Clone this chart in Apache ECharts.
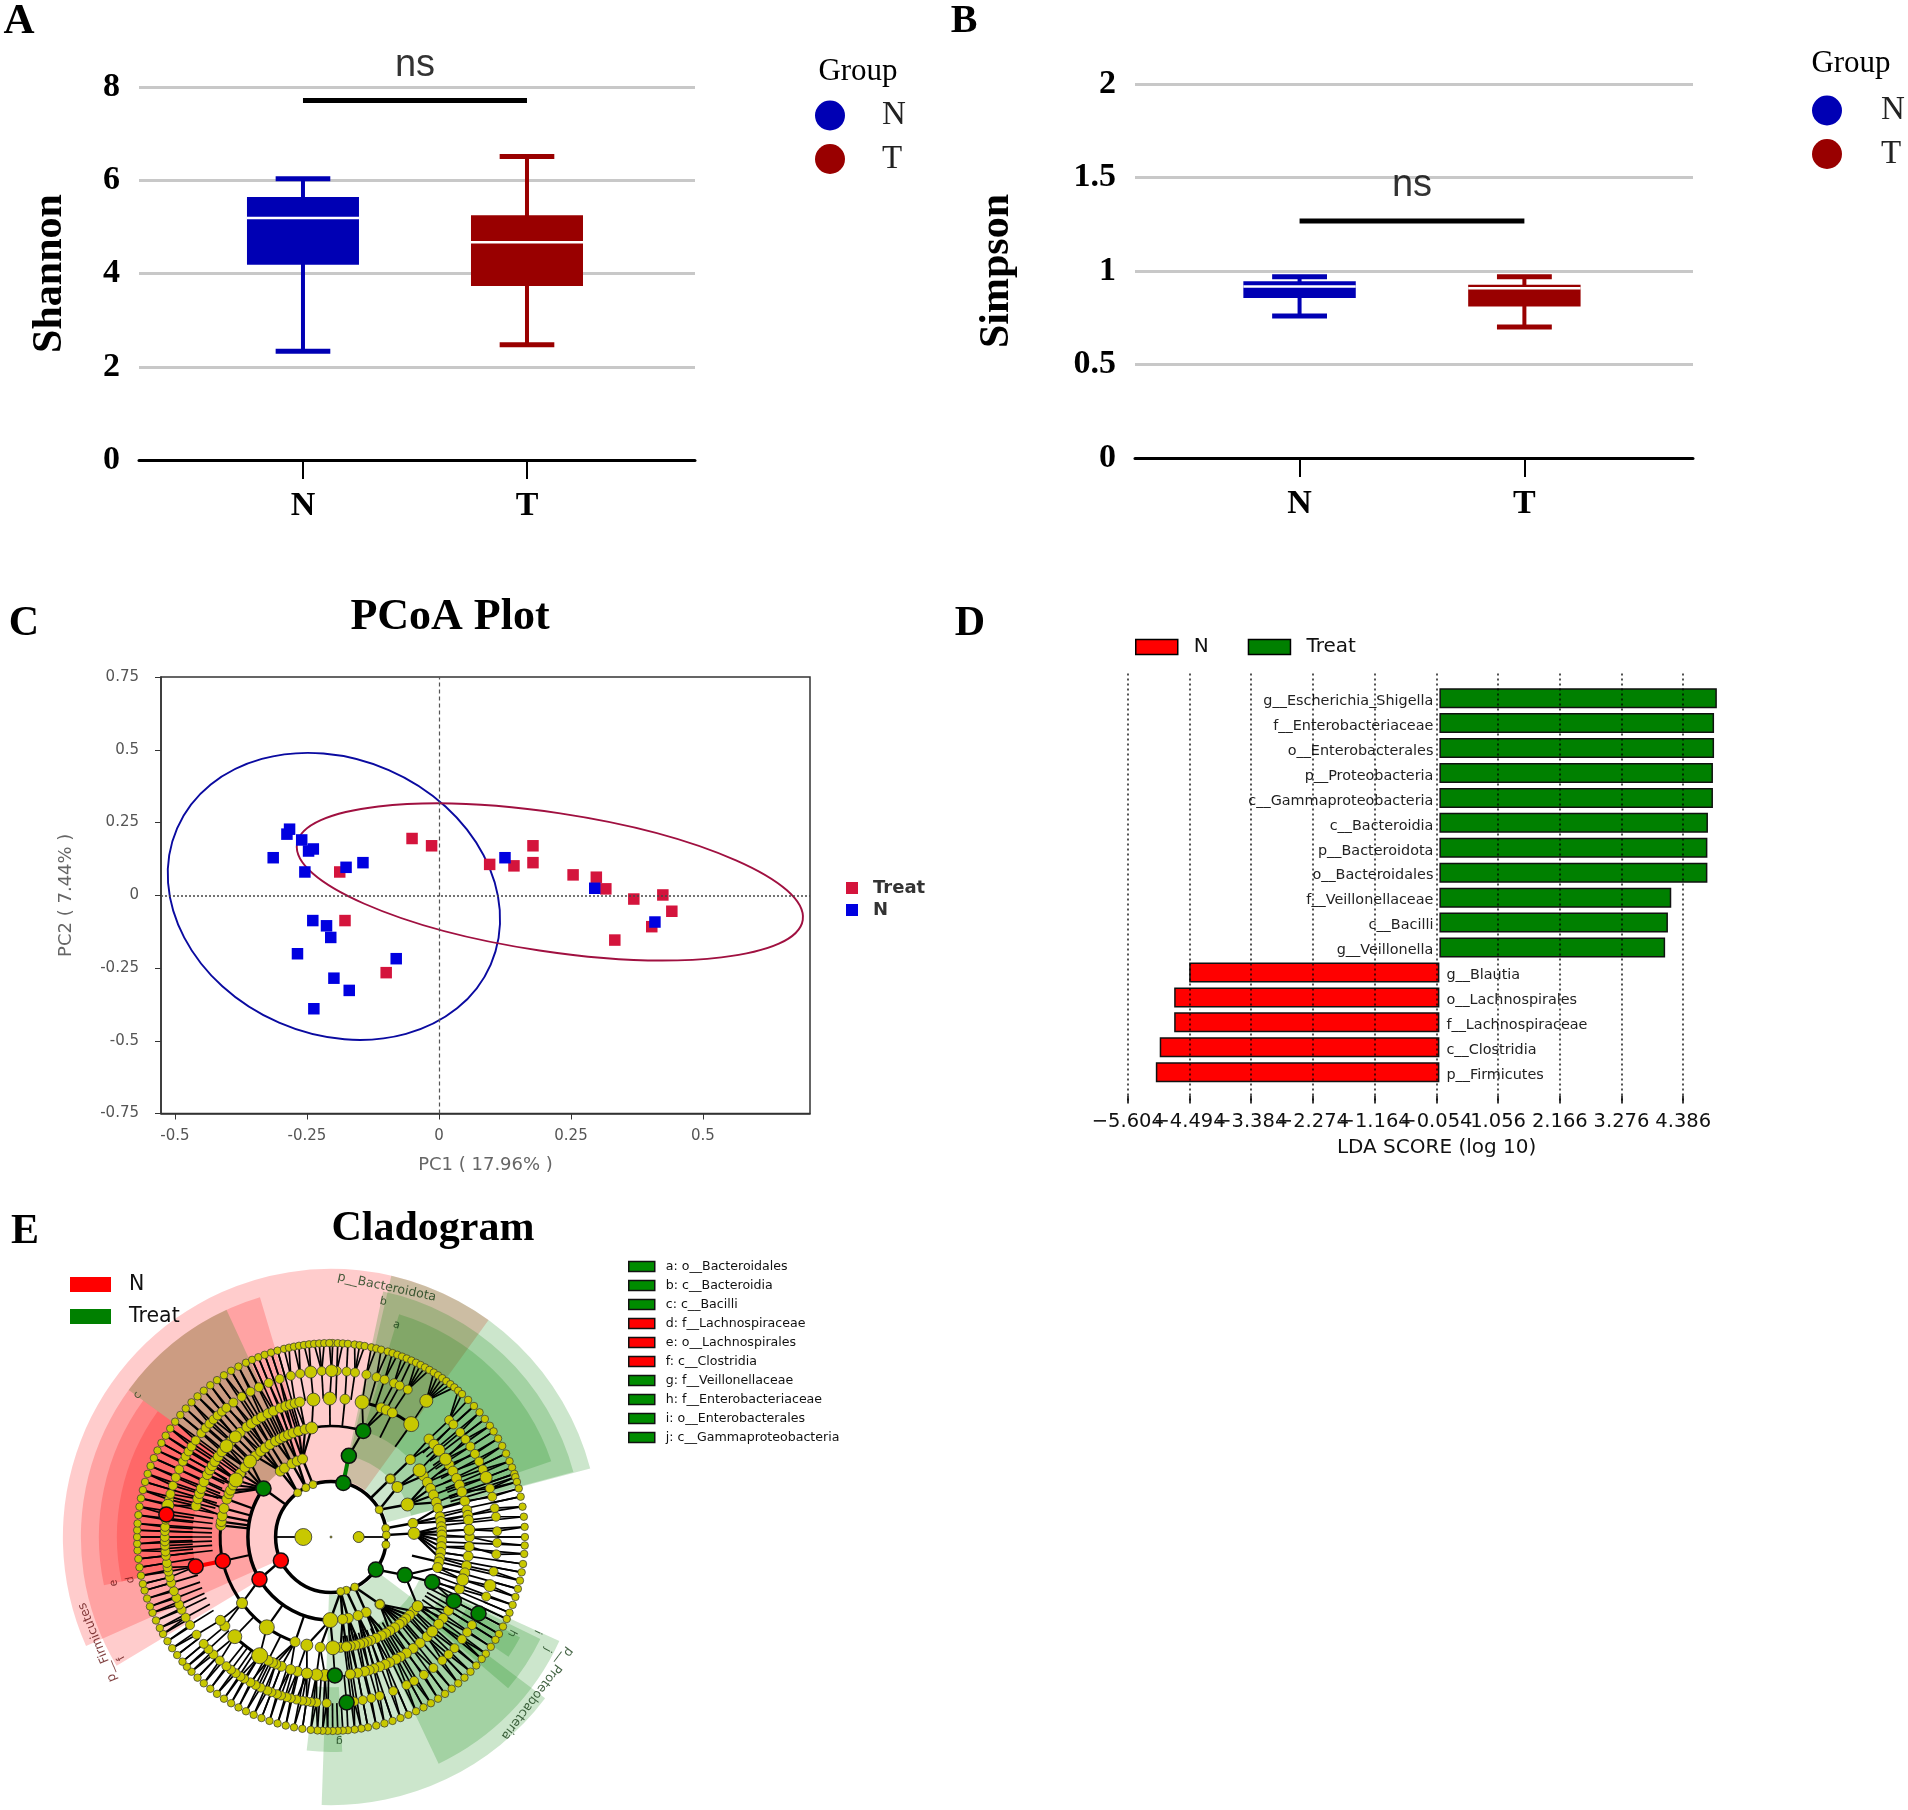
<!DOCTYPE html>
<html><head><meta charset="utf-8">
<style>html,body{margin:0;padding:0;background:#fff}#c{width:1908px;height:1810px}</style>
<script src="https://cdn.jsdelivr.net/npm/echarts@6/dist/echarts.min.js"></script>
</head><body><div id="c"></div>
<script>
// ---------- Panel A / B : boxes as [low, q1, median, q3, high]
const boxGroups = ['N', 'T'];
const shannonN = [2.33, 4.19, 5.19, 5.64, 6.03];
const shannonT = [2.47, 3.73, 4.67, 5.25, 6.51];
const simpsonN = [0.759, 0.856, 0.917, 0.945, 0.969];
const simpsonT = [0.70, 0.81, 0.908, 0.926, 0.969];
const shannonNs = 7.71;
const simpsonNs = 1.268;
// ---------- Panel C
const pcoaXTicks = [-0.5, -0.25, 0, 0.25, 0.5];
const pcoaTreat = [[-.051,.195],[-.014,.17],[.096,.106],[.142,.101],[.178,.17],[.178,.112],[.254,.07],[.298,.062],[.316,.022],[.369,-.013],[.424,.001],[.441,-.055],[.403,-.108],[.333,-.154],[-.188,.08],[-.178,-.087],[-.1,-.266]];
const pcoaN = [[-.283,.227],[-.288,.21],[-.26,.19],[-.238,.159],[-.247,.152],[-.314,.129],[-.254,.08],[-.176,.096],[-.144,.112],[.125,.129],[.295,.024],[.409,-.092],[-.239,-.087],[-.213,-.105],[-.205,-.145],[-.268,-.201],[-.081,-.218],[-.199,-.285],[-.17,-.327],[-.237,-.39]];
// ellipse: centre x,y, major-axis end x,y, minor-axis end x,y
const ellipseN = [-.199,-.004,.098,-.238,-.303,-.438];
const ellipseTreat = [.21,.0458,.689,-.085,.191,-.19];
// ---------- Panel D
const ldaTicks = [-5.604, -4.494, -3.384, -2.274, -1.164, -0.054, 1.056, 2.166, 3.276, 4.386];
const ldaTicksA = [-5.604, -3.384, -1.164, 1.056, 3.276];
const ldaTicksB = [-4.494, -2.274, -0.054, 2.166, 4.386];
const ldaCats = ['g__Escherichia_Shigella','f__Enterobacteriaceae','o__Enterobacterales','p__Proteobacteria','c__Gammaproteobacteria','c__Bacteroidia','p__Bacteroidota','o__Bacteroidales','f__Veillonellaceae','c__Bacilli','g__Veillonella','g__Blautia','o__Lachnospirales','f__Lachnospiraceae','c__Clostridia','p__Firmicutes'];
const ldaTreat = [4.99, 4.94, 4.94, 4.92, 4.92, 4.83, 4.82, 4.82, 4.17, 4.11, 4.06];
const ldaN = [-4.50, -4.77, -4.77, -5.03, -5.10];
// ---------- Panel E : clock degrees on concentric levels
const cladoRing7 = [0.5,2,3.5,5,7,8.5,10,12,13.5,15,17,18.5,20,21.5,23,24.5,26,27.5,29,30.5,32,33.5,35,36.5,38,39.5,41,42.5,45,47.5,50,52.5,55,57,59.5,62,64.5,67,69,71,72,73.5,75.5,78,81,84,87,90,92.5,95,98,100.5,103,105.5,108,110.5,113,115,117.5,120,122,124.5,127,129,131.5,134,136.5,139,141.5,144,146.5,149,151.5,154,156.5,159,161.5,164,166.5,169,171,173,175,176.5,178,179.5,181,182.5,184,186,188.5,191,193.5,196,198.5,201,203.5,206,208.5,211,213.5,216,218.5,221,223.5,226,228,230,232.5,235,237.5,240,242,244.5,247,249,251.5,254,256,258.5,261,263.5,266,268,270,272,274,276.5,279,281.5,284,286.5,289,291.5,294,296.5,299,301.5,304,306.5,309,311.5,314,316.5,319,321.5,324,326.5,329,331.5,334,336,338,340,342,344,346,347.5,349,350.5,352,353.5,355,356.5,358,359.5];
const cladoRing6 = [0.2,2,5.4,8.3,12.3,15.9,18.8,22.3,24.4,27.5,35,45.3,47.4,51,54,57,60,63,66,69,73,76,80,83,88,92,96,102,107,111,122,125,128,132,135,138,142,146,150,153,158,163,166,169,172,181.5,185,187,188.5,190,192,194,195.5,197.5,199,201,202.5,205,207,209,211.5,213,215,217,219,222,225,227.5,230,234,238,241,244,246,248.5,251,254,256,258,259.5,261,263.5,265,267,268.5,270,272,273.5,276,281,283,285,288,291,294,297,299,301,303,305.5,308.7,311,313,315,317,319,321,324,327.5,331,334.3,338,342,346,349.3,353,356.8];
const cladoRing5 = [5.8,13,21.2,23.5,26.3,35.4,45,48,51.2,55.8,58.5,61.6,65,68,71,75,78.8,81,83,87,90,94,98,102,105,108,112,122,126,129,133,136,140,143.6,147,150,152,155,157,159.5,162,164,166,169,172,182.5,186,190,194,197,201,203.5,205,207,211,224,230,233,283,286,288.3,290.5,293.5,296.8,299,301,303,305.5,308,311,313.5,316.3,319,322.6,325,327.6,330,333,335.5,338.6,341,343,345,347,352.7,359.5];
const cladoRing4 = [45.7,53,56.5,60.4,64,67.7,71.8,75,79.5,82,84.7,87,89,92,95,98,101,103,106,128.6,132,135,137.6,140,142,145,148,150.5,153,156,159,161,163,165,167.5,170,172,175,179,185.6,192.6,198.9,215.4,233.4,276,278,281,285,290,293,295,298,301,305,309,313,317,320.6,323.5,326.6,330,332.7,335,337.5,340,343,346.5,350];
const cladoRing3 = [45.6,53,67,80.5,87.5,144,155,161,168,172,180.5,322.4,326,332,336,340];
const cladoRing2 = [60.5,81,88,98,154.6,164,170,323,333,341];
const cladoRing1 = [90, 270];
const cladoRedNodes = [[2,244.8],[3,239.4],[4,257.5],[5,257.7],[6,277.8]];
const cladoGreenNodes = [[2,12.8],[3,12.4],[4,16.9],[2,126],[3,117.3],[4,114],[5,117.5],[6,117.4],[3,305.7],[5,178.4],[6,174.6]];
const cladoBigNodes = [[0,0,2],[6,35,13],[6,69,12],[6,107,12],[6,353,12],[6,0.2,12],[6,281,12],[5,35.4,15],[5,51.2,12],[5,55.8,12],[5,87,11],[5,108,12],[5,133,11],[5,172,10],[5,182.5,12],[5,186,12],[5,190,11],[5,211,16],[5,224,14],[5,311,13],[5,316.3,12],[5,352.7,13],[5,359.5,13],[5,13,14],[4,53,13],[4,128.6,11],[4,179,14],[4,172,10],[4,192.6,12],[4,215.4,15],[4,233.4,11],[4,301,14],[4,313,13],[4,350,12],[3,53,11],[3,67,13],[3,87.5,12],[3,180.5,15],[3,144,9],[3,45.6,9],[1,90,11],[1,270,17]];
const cladoArcs = [[2,0,360,3.5],[3,180,305,3.5],[4,198,276,3],[4,340,377,2.5],[5,211,224,3],[5,13,35,3]];
// spokes through the rings: [from clock, to clock, inner level]
const cladoSpokeBands = [[46,75,4.5],[75,125,4],[125,148,4],[148,175,3.6],[181,215,5],[215,262,6],[262,300,4.3],[300,345,3.8]];
const cladoRedEdges = [[5,257.7,4,257.5,4]];
const cladoGreenEdges = [[3,12.4,2,12.8,4]];
// [from clock, to clock, inner level, outer level]
const sectorsN = [[246,396,2.02,9.68],[239,343.5,3,9.03],[258,306,4,8.38],[258,306,5,7.73]];
const sectorsTreat = [[13,75.2,2.09,9.68],[12,75,3,9.06],[17,71,4,8.41],[306,335.3,3,9.03],[127,182,2.09,9.68],[114.5,154.6,3.54,9.06],[116,130.5,4.51,8.41],[118,124,5.52,7.73],[177,186.5,5.42,7.76]];
const cladeKeyN = ['d: f__Lachnospiraceae','e: o__Lachnospirales','f: c__Clostridia'];
const cladeKey = ['a: o__Bacteroidales','b: c__Bacteroidia','c: c__Bacilli','d: f__Lachnospiraceae','e: o__Lachnospirales','f: c__Clostridia','g: f__Veillonellaceae','h: f__Enterobacteriaceae','i: o__Enterobacterales','j: c__Gammaproteobacteria'];
// [text, level, clock, rotate]
const cladoLabels = [['a',8.01,17.2,-17],['b',8.7,12.5,-12],['c',8.66,306.2,54],['d',7.4,258,102],['e',8.01,258,102],['f',8.74,240,120],['g',7.36,177.7,180],['h',7.4,118,-118],['i',8.2,114.7,-115],['j',8.81,117.6,-118],['p__Bacteroidota',9.24,12.6,-12],['p__Firmicutes',9.24,245.7,112],['p__Proteobacteria',9.35,127.2,-127]];

const SERIF = '"Liberation Serif"', SANS = '"DejaVu Sans"';
const BLUE = '#0000b4', DARKRED = '#990000';

function boxRender(params, api) {
  const x = api.value(0), color = api.visual('color');
  const P = (a, b) => api.coord([a, b]);
  const low = api.value(1), q1 = api.value(2), med = api.value(3), q3 = api.value(4), high = api.value(5);
  const tl = P(x - .25, q3), br = P(x + .25, q1);
  const line = (p, q, w, c) => ({type:'line', shape:{x1:p[0],y1:p[1],x2:q[0],y2:q[1]}, style:{stroke:c||color,lineWidth:w}});
  return {type:'group', children:[
    line(P(x,low),P(x,high),4),
    line(P(x-.122,low),P(x+.122,low),5),
    line(P(x-.122,high),P(x+.122,high),5),
    {type:'rect', shape:{x:tl[0],y:tl[1],width:br[0]-tl[0],height:br[1]-tl[1]}, style:{fill:color}},
    line(P(x-.25,med),P(x+.25,med),2.5,'#ffffff')
  ]};
}
function boxSeries(name, idx, values, color) {
  return {type:'custom', name, xAxisIndex:idx, yAxisIndex:idx, renderItem:boxRender, itemStyle:{color},
    encode:{x:0,y:[1,2,3,4,5]}, data:[[boxGroups.indexOf(name)+1].concat(values)], z:3};
}
function nsSeries(idx, y) {
  return [
    {type:'line', xAxisIndex:idx, yAxisIndex:idx, data:[[1,y],[2,y]], showSymbol:false, lineStyle:{color:'#000',width:5}, z:3},
    {type:'scatter', xAxisIndex:idx, yAxisIndex:idx, data:[[1.5,y]], symbolSize:0, z:4,
     label:{show:true, position:'top', distance:16, formatter:'ns', fontFamily:'"Liberation Sans"', fontSize:38, color:'#000'}}
  ];
}
function boxX(idx) {
  return {gridIndex:idx, type:'value', min:.268, max:2.75, splitLine:{show:false},
    axisLine:{lineStyle:{color:'#000',width:3}},
    axisTick:{customValues:[1,2], length:19, lineStyle:{color:'#000',width:2}},
    axisLabel:{customValues:[1,2], formatter:v=>boxGroups[v-1], fontFamily:SERIF, fontWeight:'bold', fontSize:34, color:'#000', margin:29}};
}
function boxY(idx, name, max, interval, gap) {
  return {gridIndex:idx, type:'value', min:0, max, interval, name, nameLocation:'middle', nameGap:gap,
    nameTextStyle:{fontFamily:SERIF,fontWeight:'bold',fontSize:42,color:'#000'},
    axisLine:{show:false}, axisTick:{show:false},
    splitLine:{lineStyle:{color:'#c8c8c8',width:3}},
    axisLabel:{fontFamily:SERIF,fontWeight:'bold',fontSize:34,color:'#000',margin:19,padding:[4,0,0,0]}};
}
function ellipseRender(params, api) {
  const c=api.coord([api.value(0),api.value(1)]), a=api.coord([api.value(2),api.value(3)]), b=api.coord([api.value(4),api.value(5)]);
  const rx=Math.hypot(a[0]-c[0],a[1]-c[1]), ry=Math.hypot(b[0]-c[0],b[1]-c[1]);
  return {type:'ellipse', x:c[0], y:c[1], rotation:-Math.atan2(a[1]-c[1],a[0]-c[0]),
    shape:{cx:0,cy:0,rx,ry}, style:{fill:null,stroke:api.visual('color'),lineWidth:1.9}};
}
// ----- cladogram helpers
const specials = k => cladoRedNodes.concat(cladoGreenNodes).filter(n=>n[0]==k).map(n=>n[1]);
const rings = {1:cladoRing1, 2:cladoRing2.concat(specials(2)), 3:cladoRing3.concat(specials(3)), 4:cladoRing4.concat(specials(4)), 5:cladoRing5.concat(specials(5)), 6:cladoRing6.concat(specials(6)), 7:cladoRing7};
const ringSize = {1:10,2:8,3:10,4:10,5:10,6:9,7:7.5};
const edgeWidth = {3:2.5,4:2.2,5:1.8,6:1.7,7:1.7};
const parentReach = {3:14,4:14,5:8,6:2,7:1.2};
const angDiff = (a,b)=>{const d=Math.abs(a-b)%360;return d>180?360-d:d;};
const edges = [];
for (let k=7;k>=3;k--) rings[k].forEach(a=>{
  let best=a, bd=1e9;
  rings[k-1].forEach(b=>{const d=angDiff(a,b); if(d<bd){bd=d;best=b;}});
  const fan = k==7 && (a<45 || a>=345);
  const target = (bd<=parentReach[k] || fan) ? best : a;
  edges.push([k,a,k-1,target,edgeWidth[k]]);
});
cladoRing1.forEach(a=>edges.push([1,a,2,a,1.8]));
cladoSpokeBands.forEach(b=>cladoRing7.filter(a=>a>=b[0]&&a<b[1]).forEach(a=>edges.push([7,a,b[2],a,1.7])));
const yellowNodes = [];
[[1,cladoRing1],[2,cladoRing2],[3,cladoRing3],[4,cladoRing4],[5,cladoRing5],[6,cladoRing6],[7,cladoRing7]].forEach(([k,src])=>src.forEach(a=>yellowNodes.push([k,a,ringSize[k]])));

function sectorRender(params, api){
  const cs=params.coordSys, a0=api.value(0), a1=api.value(1);
  const dist=r=>{const p=api.coord([r,0]);return Math.hypot(p[0]-cs.cx,p[1]-cs.cy);};
  const R=Math.PI/180;
  return {type:'sector', shape:{cx:cs.cx,cy:cs.cy,r0:dist(api.value(2)),r:dist(api.value(3)),startAngle:(a0-90)*R,endAngle:(a1-90)*R,clockwise:true},
    style:{fill:api.visual('color')}};
}
function edgeRender(params, api){
  const p=api.coord([api.value(0),api.value(1)]), q=api.coord([api.value(2),api.value(3)]);
  return {type:'line', shape:{x1:p[0],y1:p[1],x2:q[0],y2:q[1]}, style:{stroke:api.visual('color'),lineWidth:api.value(4)}};
}
function arcRender(params, api){
  const cs=params.coordSys, R=Math.PI/180;
  const p=api.coord([api.value(0),0]), r=Math.hypot(p[0]-cs.cx,p[1]-cs.cy);
  return {type:'arc', shape:{cx:cs.cx,cy:cs.cy,r,startAngle:(api.value(1)-90)*R,endAngle:(api.value(2)-90)*R,clockwise:true},
    style:{stroke:'#000',fill:null,lineWidth:api.value(3)}};
}
const pageTexts = [
  ['A',19,22,43,'bold',SERIF],['B',964,22,40,'bold',SERIF],['C',24,624,42,'bold',SERIF],['D',970,624,42,'bold',SERIF],['E',25,1232,42,'bold',SERIF],
  ['PCoA Plot',450,618,44,'bold',SERIF],['Cladogram',433,1229,42,'bold',SERIF],
  ['Group',858,72,31,'normal',SERIF],['Group',1851,64,31,'normal',SERIF]
];
const clickless = {selectedMode:false, padding:0};
const ldaLabel = {fontFamily:SANS,fontSize:19.5,color:'#111',margin:8,hideOverlap:false,formatter:v=>v.toFixed(3).replace('-','\u2212')};
const option = {
  backgroundColor:'#fff', animation:false,
  graphic:{elements:pageTexts.map(t=>({type:'text',x:t[1],y:t[2],style:{text:t[0],fill:'#000',font:`${t[4]} ${t[3]}px ${t[5]}`,textAlign:'center',textVerticalAlign:'middle'}}))},
  grid:[
    {left:139,top:87,width:556,height:373},
    {left:1135,top:84,width:558,height:374},
    {left:161,top:677,width:649,height:436.5,show:true,borderColor:'#333',borderWidth:1.5},
    {left:1127.8,top:685.7,width:589.6,height:399},
    {left:1127.8,top:673.6,width:617.6,height:430},
    {left:1127.8,top:673.6,width:617.6,height:430}
  ],
  polar:{center:[331,1537],radius:[0,277]},
  radiusAxis:{min:0,max:10,show:false},
  angleAxis:{min:0,max:360,startAngle:90,show:false},
  xAxis:[
    boxX(0), boxX(1),
    {gridIndex:2,type:'value',min:-0.5265,max:0.7027,splitLine:{show:false},name:'PC1 ( 17.96% )',nameLocation:'middle',nameGap:43,
     nameTextStyle:{fontFamily:SANS,fontSize:18,color:'#666'},
     axisLine:{onZero:false,lineStyle:{color:'#333',width:1.5}},
     axisTick:{customValues:pcoaXTicks,length:6,lineStyle:{color:'#333'}},
     axisLabel:{customValues:pcoaXTicks,fontFamily:SANS,fontSize:15,color:'#555',margin:15,formatter:v=>String(v)}},
    {gridIndex:3,type:'value',min:-5.604,max:5,show:false,splitLine:{show:false}},
    {gridIndex:4,type:'value',min:-5.604,max:5.504,z:3,name:'LDA SCORE (log 10)',nameLocation:'middle',nameGap:34,
     nameTextStyle:{fontFamily:SANS,fontSize:20,color:'#111'},
     axisLine:{show:false},
     splitLine:{show:true,lineStyle:{color:'#000',width:1.8,type:[2,3],opacity:.75}},
     axisTick:{customValues:ldaTicks,inside:true,length:8,lineStyle:{color:'#000',width:1.5}},
     axisLabel:Object.assign({customValues:ldaTicksA},ldaLabel)},
    {gridIndex:5,type:'value',min:-5.604,max:5.504,axisLine:{show:false},splitLine:{show:false},axisTick:{show:false},
     axisLabel:Object.assign({customValues:ldaTicksB},ldaLabel)}
  ],
  yAxis:[
    boxY(0,'Shannon',8,2,68),
    boxY(1,'Simpson',2,0.5,117),
    {gridIndex:2,type:'value',min:-0.75,max:0.75,interval:0.25,splitLine:{show:false},name:'PC2 ( 7.44% )',nameLocation:'middle',nameGap:86,
     nameTextStyle:{fontFamily:SANS,fontSize:18,color:'#666'},
     axisLine:{onZero:false,lineStyle:{color:'#333',width:1.5}},
     axisTick:{length:6,lineStyle:{color:'#333'}},
     axisLabel:{fontFamily:SANS,fontSize:15,color:'#555',margin:22}},
    {gridIndex:3,type:'category',inverse:true,data:ldaCats,show:false},
    {gridIndex:4,type:'value',min:0,max:1,show:false,splitLine:{show:false}},
    {gridIndex:5,type:'value',min:0,max:1,show:false,splitLine:{show:false}}
  ],
  legend:[
    Object.assign({left:815,top:99,orient:'vertical',icon:'circle',itemWidth:30,itemHeight:30,itemGap:10.5,textStyle:{fontFamily:SERIF,fontSize:33,color:'#222',padding:[0,0,0,32]},
      data:[{name:'N',itemStyle:{color:BLUE,opacity:1}},{name:'T',itemStyle:{color:DARKRED,opacity:1}}]},clickless),
    Object.assign({left:1812,top:94,orient:'vertical',icon:'circle',itemWidth:30,itemHeight:30,itemGap:10.5,textStyle:{fontFamily:SERIF,fontSize:33,color:'#222',padding:[0,0,0,34]},
      data:[{name:'N',itemStyle:{color:BLUE,opacity:1}},{name:'T',itemStyle:{color:DARKRED,opacity:1}}]},clickless),
    Object.assign({left:846,top:879,orient:'vertical',icon:'rect',itemWidth:12,itemHeight:12,itemGap:4,textStyle:{fontFamily:SANS,fontWeight:'bold',fontSize:18,color:'#333',padding:[0,0,0,10]},
      data:[{name:'Treat',itemStyle:{color:'#d4143c',opacity:1}},{name:'N',itemStyle:{color:'#0000e0',opacity:1}}]},clickless),
    Object.assign({left:1135,top:637,orient:'horizontal',icon:'rect',itemWidth:42,itemHeight:15,itemGap:39,textStyle:{fontFamily:SANS,fontSize:20,color:'#111',padding:[0,0,0,11]},
      data:[{name:'N',itemStyle:{color:'#ff0000',borderColor:'#000',borderWidth:1.5,opacity:1}},{name:'Treat',itemStyle:{color:'#008000',borderColor:'#000',borderWidth:1.5,opacity:1}}]},clickless),
    Object.assign({left:70,top:1274,orient:'vertical',icon:'rect',itemWidth:41,itemHeight:15,itemGap:11,textStyle:{fontFamily:SANS,fontSize:20.5,color:'#111',padding:[0,0,0,13]},
      data:[{name:'N',itemStyle:{color:'#ff0000',borderWidth:0,opacity:1}},{name:'Treat',itemStyle:{color:'#008000',borderWidth:0,opacity:1}}]},clickless),
    Object.assign({left:628,top:1260,orient:'vertical',icon:'rect',itemWidth:26,itemHeight:10,itemGap:6,textStyle:{fontFamily:SANS,fontSize:12.6,color:'#111',padding:[0,0,0,6]},
      data:cladeKey.map(n=>({name:n,itemStyle:{color:cladeKeyN.includes(n)?'#ff0000':'#008c00',borderColor:'#111',borderWidth:1.5,opacity:1}}))},clickless)
  ],
  series:[
    boxSeries('N',0,shannonN,BLUE), boxSeries('T',0,shannonT,DARKRED),
    ...nsSeries(0,shannonNs),
    boxSeries('N',1,simpsonN,BLUE), boxSeries('T',1,simpsonT,DARKRED),
    ...nsSeries(1,simpsonNs),
    {type:'custom',name:'ellipse N',xAxisIndex:2,yAxisIndex:2,renderItem:ellipseRender,data:[ellipseN],encode:{x:0,y:1},itemStyle:{color:'#0a0aa0'},z:2},
    {type:'custom',name:'ellipse Treat',xAxisIndex:2,yAxisIndex:2,renderItem:ellipseRender,data:[ellipseTreat],encode:{x:0,y:1},itemStyle:{color:'#a01040'},z:2},
    {type:'scatter',name:'Treat',xAxisIndex:2,yAxisIndex:2,data:pcoaTreat,symbol:'rect',symbolSize:11.5,itemStyle:{color:'#d4143c',opacity:1},z:3,
     markLine:{silent:true,symbol:'none',label:{show:false},animation:false,
       data:[{xAxis:0,lineStyle:{color:'#555',type:[4,3],width:1.2}},{yAxis:0,lineStyle:{color:'#444',type:[2,2],width:1.5}}]}},
    {type:'scatter',name:'N',xAxisIndex:2,yAxisIndex:2,data:pcoaN,symbol:'rect',symbolSize:11.5,itemStyle:{color:'#0000e0',opacity:1},z:4},
    {type:'bar',name:'Treat',xAxisIndex:3,yAxisIndex:3,data:ldaTreat.concat(ldaN.map(()=>null)),barWidth:20,barGap:'-100%',
     itemStyle:{color:'#008000',borderColor:'#111',borderWidth:1.5},
     label:{show:true,formatter:'{b}',position:[-6,'50%'],align:'right',verticalAlign:'middle',offset:[0,3],fontFamily:SANS,fontSize:14.4,color:'#222'}},
    {type:'bar',name:'N',xAxisIndex:3,yAxisIndex:3,data:ldaTreat.map(()=>null).concat(ldaN),barWidth:20,barGap:'-100%',
     itemStyle:{color:'#ff0000',borderColor:'#111',borderWidth:1.5},
     label:{show:true,formatter:'{b}',position:['100%','50%'],align:'left',verticalAlign:'middle',offset:[7,3],fontFamily:SANS,fontSize:14.4,color:'#222'}},
    // cladogram
    {type:'custom',name:'N',coordinateSystem:'polar',renderItem:sectorRender,data:sectorsN,encode:{radius:3,angle:0},itemStyle:{color:'rgba(255,0,0,0.2)'},z:1,silent:true},
    {type:'custom',name:'Treat',coordinateSystem:'polar',renderItem:sectorRender,data:sectorsTreat,encode:{radius:3,angle:0},itemStyle:{color:'rgba(0,128,0,0.2)'},z:1,silent:true},
    {type:'custom',coordinateSystem:'polar',renderItem:arcRender,data:cladoArcs,encode:{radius:0,angle:1},z:2,silent:true},
    {type:'custom',coordinateSystem:'polar',renderItem:edgeRender,data:edges,encode:{radius:0,angle:1},itemStyle:{color:'#000'},z:2,silent:true},
    {type:'custom',coordinateSystem:'polar',renderItem:edgeRender,data:cladoRedEdges,encode:{radius:0,angle:1},itemStyle:{color:'#ff0000'},z:2,silent:true},
    {type:'custom',coordinateSystem:'polar',renderItem:edgeRender,data:cladoGreenEdges,encode:{radius:0,angle:1},itemStyle:{color:'#008000'},z:2,silent:true},
    {type:'scatter',coordinateSystem:'polar',data:yellowNodes,symbolSize:v=>v[2],itemStyle:{color:'#c8c800',borderColor:'#333',borderWidth:.7,opacity:1},z:3,silent:true},
    {type:'scatter',coordinateSystem:'polar',data:cladoBigNodes,symbolSize:v=>v[2],itemStyle:{color:'#c8c800',borderColor:'#333',borderWidth:.8,opacity:1},z:4,silent:true},
    {type:'scatter',coordinateSystem:'polar',data:cladoRedNodes,symbolSize:15,itemStyle:{color:'#ff0000',borderColor:'#111',borderWidth:1.5,opacity:1},z:5,silent:true},
    {type:'scatter',coordinateSystem:'polar',data:cladoGreenNodes,symbolSize:15,itemStyle:{color:'#008000',borderColor:'#111',borderWidth:1.5,opacity:1},z:5,silent:true},
    {type:'scatter',coordinateSystem:'polar',data:cladoLabels.map(l=>({value:[l[1],l[2]],label:{show:true,position:'inside',formatter:l[0],rotate:l[3],fontFamily:SANS,fontSize:l[0].length>1?12.5:11,
       color:/Firm/.test(l[0])||'def'.includes(l[0])?'#601010':'#123a12'}})),symbolSize:0,z:6,silent:true},
    ...cladeKey.map(n=>({type:'scatter',name:n,coordinateSystem:'polar',data:[]}))
  ]
};
const chart = echarts.init(document.getElementById('c'), null, {renderer:'canvas'});
chart.setOption(option);
</script></body></html>
